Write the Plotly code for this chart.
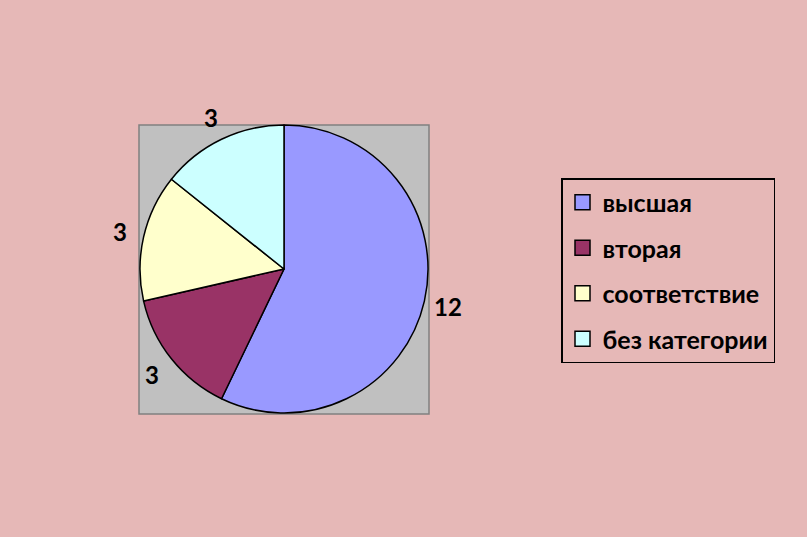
import math
import plotly.graph_objects as go

categories = ["высшая", "вторая", "соответствие", "без категории"]
values = [12, 3, 3, 3]
colors = ["#9999FF", "#993366", "#FFFFCC", "#CCFFFF"]

W, H = 807, 537
bg = "#E6B8B7"
FONT = "Lato"

# pie geometry (pixels)
cx, cy, r = 284, 269, 144

fig = go.Figure()
fig.add_trace(go.Pie(
    labels=categories, values=values, sort=False, direction="clockwise",
    rotation=0, marker=dict(colors=colors, line=dict(color="black", width=1.5)),
    textinfo="none",
    showlegend=False, hoverinfo="label+value",
    domain=dict(x=[(cx - r) / W, (cx + r) / W], y=[(H - cy - r) / H, (H - cy + r) / H]),
))

# value labels outside slices, at the slice mid-angle
total = sum(values)
annotations = []
acc = 0
for v in values:
    mid = (acc + v / 2) / total * 2 * math.pi
    acc += v
    d = r * 1.17
    px = cx + d * math.sin(mid)
    py = cy - d * math.cos(mid)
    annotations.append(dict(
        x=px / W, y=(H - py) / H, xref="paper", yref="paper", showarrow=False,
        text=f"<b>{v}</b>", font=dict(family=FONT, size=24, color="black"),
        xanchor="center", yanchor="middle",
    ))

for cat, col in zip(categories, colors):
    fig.add_trace(go.Scatter(
        x=[None], y=[None], mode="markers", name=f"<b>{cat}</b>", legendgroup=cat,
        marker=dict(symbol="square", size=15, color=col, line=dict(color="black", width=1.5)),
        showlegend=True,
    ))

fig.update_layout(
    width=W, height=H, paper_bgcolor=bg, plot_bgcolor=bg,
    margin=dict(l=0, r=0, t=0, b=0),
    xaxis=dict(visible=False), yaxis=dict(visible=False),
    annotations=annotations,
    shapes=[dict(type="rect", xref="paper", yref="paper",
                 x0=139 / W, x1=429 / W, y0=(H - 414) / H, y1=(H - 125) / H,
                 fillcolor="#C0C0C0", line=dict(color="#808080", width=1.5), layer="below")],
    legend=dict(x=561 / W, y=(H - 178) / H, xanchor="left", yanchor="top",
                bgcolor="rgba(0,0,0,0)", bordercolor="black", borderwidth=1.5,
                font=dict(family=FONT, size=25, color="black"),
                tracegroupgap=10, traceorder="grouped", itemwidth=30),
)

fig.write_html("out.html", config={"displayModeBar": False},
               post_script="document.body.style.margin='0';")
